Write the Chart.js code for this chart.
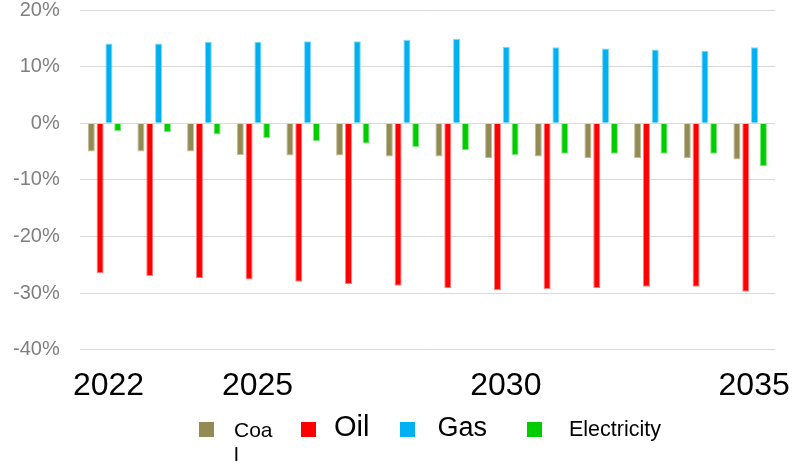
<!DOCTYPE html>
<html>
<head>
<meta charset="utf-8">
<script src="https://cdn.jsdelivr.net/npm/chart.js@4.4.1/dist/chart.umd.min.js"></script>
<style>
  html, body { margin: 0; padding: 0; background: #fff; }
  #wrap { position: relative; width: 798px; height: 461px; }
  #legend {
    position: absolute; left: 199px; top: 412px;
    display: flex; align-items: flex-start;
    font-family: "Liberation Sans", Arial, sans-serif; color: #000;
  }
  #legend .item { display: flex; align-items: flex-start; }
  #legend .box { width: 15px; height: 15px; margin-top: 10px; flex: none; }
  #legend .txt { line-height: 1.2; }
</style>
</head>
<body>
<div id="wrap">
  <canvas id="energy" width="798" height="461"></canvas>
  <div id="legend"></div>
</div>
<script>
var years = ['2022','2023','2024','2025','2026','2027','2028','2029','2030','2031','2032','2033','2034','2035'];
var shownYears = ['2022','2025','2030','2035'];

var coal = [-5.0, -5.0, -5.0, -5.6, -5.7, -5.7, -5.9, -5.9, -6.2, -5.9, -6.2, -6.2, -6.2, -6.4];
var oil = [-26.5, -27.0, -27.4, -27.6, -28.0, -28.4, -28.7, -29.1, -29.5, -29.3, -29.1, -28.9, -28.9, -29.8];
var gas = [14.1, 14.1, 14.4, 14.4, 14.5, 14.5, 14.7, 14.9, 13.5, 13.4, 13.2, 13.0, 12.8, 13.4];
var electricity = [-1.4, -1.6, -2.0, -2.6, -3.2, -3.6, -4.2, -4.8, -5.6, -5.4, -5.4, -5.4, -5.4, -7.6];

var yTicks = [-40, -30, -20, -10, 0, 10, 20];

// legend text styling per series (the labels are not all the same size)
var legendStyle = [
  { size: 21, width: 40, gapBefore: 20, gapAfter: 27 },
  { size: 29, width: null, gapBefore: 18, gapAfter: 31 },
  { size: 27, width: null, gapBefore: 22, gapAfter: 40 },
  { size: 21.5, width: null, gapBefore: 27, gapAfter: 0 }
];

function mk(label, data, fill, edge) {
  return {
    label: label,
    data: data,
    backgroundColor: fill,
    borderColor: edge,
    borderWidth: 1,
    barPercentage: 0.8,
    categoryPercentage: 0.71
  };
}

var ctx = document.getElementById('energy').getContext('2d');
var chart = new Chart(ctx, {
  type: 'bar',
  data: {
    labels: years,
    datasets: [
      mk('Coal', coal, '#948A54', '#c4bc98'),
      mk('Oil', oil, '#FF0000', '#ff8080'),
      mk('Gas', gas, '#00B0F0', '#80d8f8'),
      mk('Electricity', electricity, '#00CC00', '#80e680')
    ]
  },
  options: {
    responsive: false,
    animation: false,
    layout: { padding: { left: 13, right: 23, top: 0, bottom: 56 } },
    plugins: {
      legend: { display: false },
      tooltip: { enabled: false }
    },
    scales: {
      x: {
        // invisible ticks used as the gap between plot and year labels
        grid: { display: false, drawTicks: true, tickLength: 17, tickColor: 'transparent' },
        border: { display: false },
        ticks: {
          autoSkip: false,
          maxRotation: 0,
          padding: 0,
          labelOffset: 4,
          color: '#000',
          font: { family: '"Liberation Sans", Arial, sans-serif', size: 32 },
          callback: function (v) {
            var y = this.getLabelForValue(v);
            return shownYears.indexOf(y) >= 0 ? y : '';
          }
        }
      },
      y: {
        min: -40,
        max: 20,
        afterBuildTicks: function (axis) {
          axis.ticks = yTicks.map(function (v) { return { value: v }; });
        },
        grid: { color: '#d9d9d9', lineWidth: 1, drawTicks: true, tickLength: 20, tickColor: 'transparent' },
        border: { display: false },
        ticks: {
          padding: 0,
          color: '#7f7f7f',
          font: { family: '"Liberation Sans", Arial, sans-serif', size: 20, lineHeight: 1 },
          callback: function (v) { return v + '%'; }
        }
      }
    }
  }
});

// HTML legend built from the chart's datasets
var legend = document.getElementById('legend');
chart.data.datasets.forEach(function (ds, i) {
  var st = legendStyle[i];
  var item = document.createElement('div');
  item.className = 'item';
  item.style.marginRight = st.gapAfter + 'px';
  var box = document.createElement('span');
  box.className = 'box';
  box.style.background = ds.backgroundColor;
  box.style.marginRight = st.gapBefore + 'px';
  var txt = document.createElement('span');
  txt.className = 'txt';
  txt.textContent = ds.label;
  txt.style.fontSize = st.size + 'px';
  txt.style.marginTop = (26 - st.size) + 'px';
  if (st.width) {
    txt.style.width = st.width + 'px';
    txt.style.wordBreak = 'break-all';
  }
  item.appendChild(box);
  item.appendChild(txt);
  legend.appendChild(item);
});
</script>
</body>
</html>
